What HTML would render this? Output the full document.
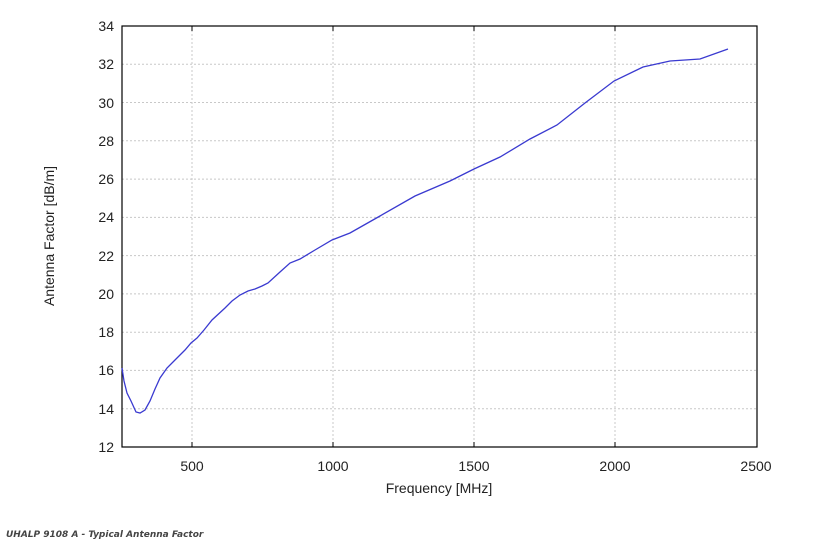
<!DOCTYPE html>
<html><head><meta charset="utf-8"><style>
html,body{margin:0;padding:0;background:#fff;}
svg{display:block;font-family:"Liberation Sans",sans-serif;}
</style></head><body>
<svg width="815" height="543" viewBox="0 0 815 543">
<g stroke="#c8c8c8" stroke-dasharray="2,2" stroke-width="1">
<line x1="192" y1="26" x2="192" y2="447"/><line x1="333" y1="26" x2="333" y2="447"/>
<line x1="474" y1="26" x2="474" y2="447"/><line x1="615" y1="26" x2="615" y2="447"/>
<line x1="122" y1="408.7" x2="757" y2="408.7"/><line x1="122" y1="370.4" x2="757" y2="370.4"/>
<line x1="122" y1="332.2" x2="757" y2="332.2"/><line x1="122" y1="293.9" x2="757" y2="293.9"/>
<line x1="122" y1="255.6" x2="757" y2="255.6"/><line x1="122" y1="217.4" x2="757" y2="217.4"/>
<line x1="122" y1="179.1" x2="757" y2="179.1"/><line x1="122" y1="140.8" x2="757" y2="140.8"/>
<line x1="122" y1="102.5" x2="757" y2="102.5"/><line x1="122" y1="64.3" x2="757" y2="64.3"/>
</g>
<rect x="122" y="26" width="635" height="421" fill="none" stroke="#000" stroke-width="1.2"/>
<g stroke="#000" stroke-width="1">
<line x1="192" y1="447" x2="192" y2="442"/><line x1="333" y1="447" x2="333" y2="442"/>
<line x1="474" y1="447" x2="474" y2="442"/><line x1="615" y1="447" x2="615" y2="442"/>
<line x1="192" y1="26" x2="192" y2="31"/><line x1="333" y1="26" x2="333" y2="31"/>
<line x1="474" y1="26" x2="474" y2="31"/><line x1="615" y1="26" x2="615" y2="31"/>
</g>
<g font-size="14" fill="#222" text-anchor="end">
<text x="114" y="452">12</text><text x="114" y="414">14</text><text x="114" y="375">16</text>
<text x="114" y="337">18</text><text x="114" y="299">20</text><text x="114" y="261">22</text>
<text x="114" y="222">24</text><text x="114" y="184">26</text><text x="114" y="146">28</text>
<text x="114" y="108">30</text><text x="114" y="69">32</text><text x="114" y="31">34</text>
</g>
<g font-size="14" fill="#222" text-anchor="middle">
<text x="192" y="471">500</text><text x="333" y="471">1000</text><text x="474" y="471">1500</text>
<text x="615" y="471">2000</text><text x="756" y="471">2500</text>
<text x="439" y="493">Frequency [MHz]</text>
<text transform="translate(54,236) rotate(-90)">Antenna Factor [dB/m]</text>
</g>
<polyline fill="none" stroke="#3a3ad0" stroke-width="1.3" points="122,368 124,381 127,393 131,401 136,412 140,413 145,410 150,401 155,389 160,378 167,368 175,360 185,350 191,343 197,338 204,330 212,320 225,308 232,301 240,295 248,291 255,289 262,286 268,283 280,272 290,263 300,259 315,250 332,240 350,233 380,216 415,196 450,181 474,169 500,157 530,139 557,125 585,103 614,81 643,67 670,61 700,59 728,49"/>
<text x="6" y="537" font-family="'DejaVu Sans',sans-serif" font-size="9" font-weight="bold" font-style="italic" fill="#444">UHALP 9108 A - Typical Antenna Factor</text>
</svg>
</body></html>
